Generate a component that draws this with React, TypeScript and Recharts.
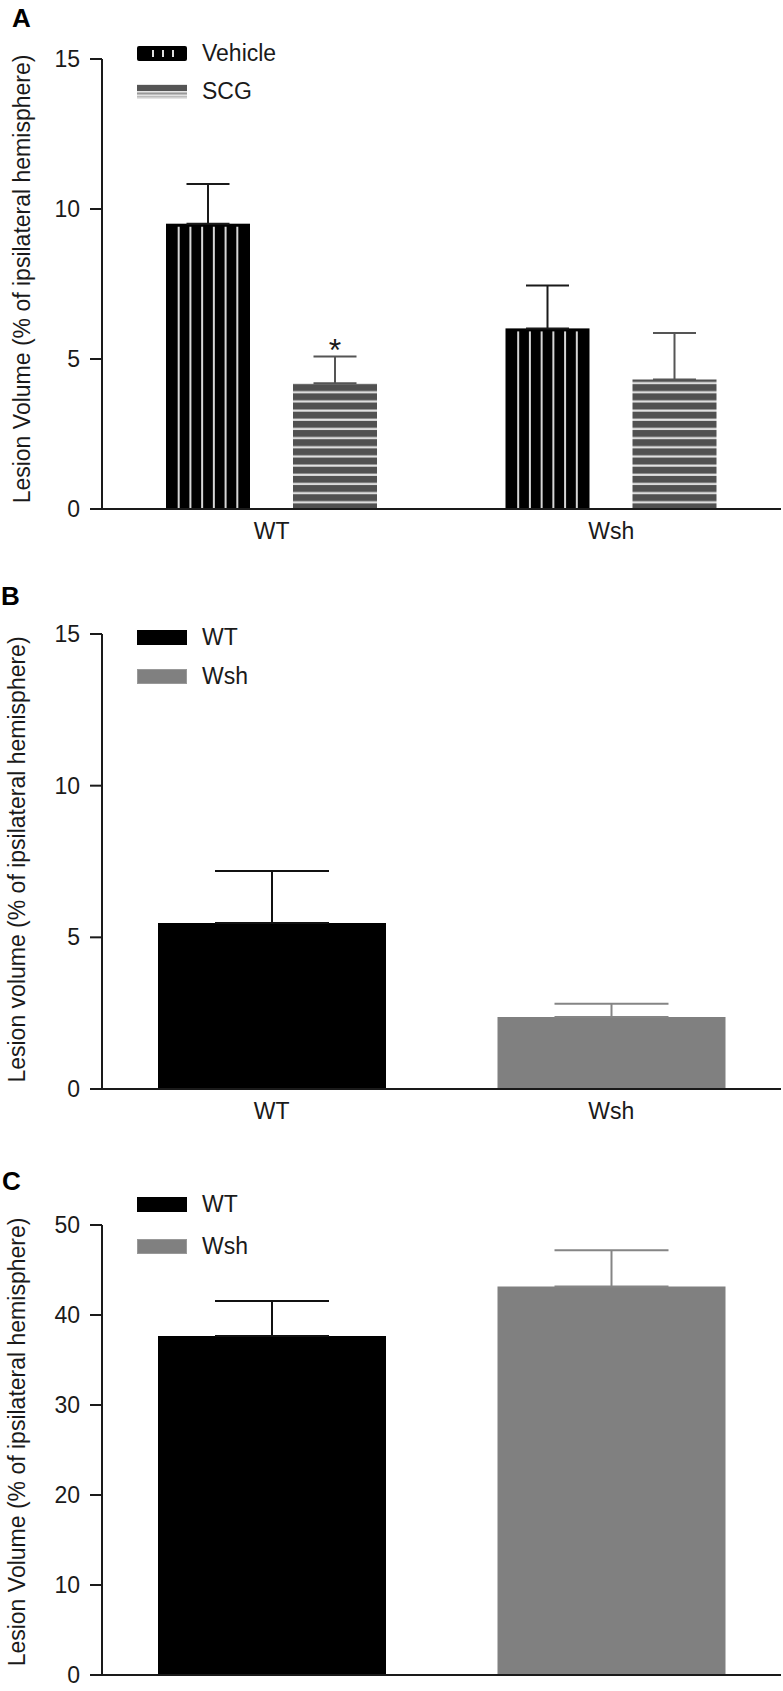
import React from "react";
import { Bar, BarChart, Cell, ErrorBar, LabelList, Legend, XAxis, YAxis } from "recharts";

// panel A: treatment x genotype
const groupsA = ["WT", "Wsh"];
const seriesA = ["Vehicle", "SCG"];
const vehicleMeans = [9.51, 6.02];
const vehicleSem = [1.32, 1.43];
const scgMeans = [4.19, 4.32];
const scgSem = [0.89, 1.55];
const scgSig = ["*", ""];

// panel B
const genotypesB = ["WT", "Wsh"];
const volumeB = [5.47, 2.37];
const semB = [1.72, 0.44];

// panel C
const genotypesC = ["WT", "Wsh"];
const volumeC = [37.67, 43.17];
const semC = [3.89, 4.03];

const ticksAB = [0, 5, 10, 15];
const ticksC = [0, 10, 20, 30, 40, 50];

const genoColors = ["#000000", "#808080"];
const errColors = ["#111111", "#858585"];

const FONT = '"Liberation Sans", Arial, Helvetica, sans-serif';
const INK = "#1a1a1a";

const dataA = groupsA.map((g, i) => ({
  group: g,
  vehicle: vehicleMeans[i],
  vehicleErr: [0, vehicleSem[i]],
  scg: scgMeans[i],
  scgErr: [0, scgSem[i]],
  sig: scgSig[i],
}));

const single = (names: string[], vals: number[], sems: number[]) =>
  names.map((g, i) => ({
    group: g,
    volume: vals[i],
    errDark: i === 0 ? [0, sems[i]] : null,
    errGray: i === 1 ? [0, sems[i]] : null,
  }));

const dataB = single(genotypesB, volumeB, semB);
const dataC = single(genotypesC, volumeC, semC);

function VehicleBar(props: any) {
  const { x, y, width, height } = props;
  if (!height) return null;
  const n = 6;
  const inset = width * 0.151;
  const step = (width - 2 * inset) / (n - 1);
  return (
    <g>
      <rect x={x} y={y} width={width} height={height} fill="#000" />
      {Array.from({ length: n }, (_, i) => (
        <line
          key={i}
          x1={x + inset + i * step}
          x2={x + inset + i * step}
          y1={y + 3}
          y2={y + height}
          stroke="#d6d6d6"
          strokeWidth={2}
        />
      ))}
    </g>
  );
}

function Star(props: any) {
  const { x, y, width, height, index, value } = props;
  if (!value) return null;
  const ppu = height / scgMeans[index];
  const capY = y - scgSem[index] * ppu;
  return (
    <text x={x + width / 2} y={capY + 4} textAnchor="middle" fontFamily={FONT} fontSize={32} fill={INK}>
      {value}
    </text>
  );
}

function YTitle(props: any) {
  const { viewBox, text, baseX, shift } = props;
  const cy = viewBox.y + viewBox.height / 2 + shift;
  return (
    <text
      transform={`translate(${baseX},${cy}) rotate(-90)`}
      textAnchor="middle"
      fontFamily={FONT}
      fontSize={23}
      fill={INK}
    >
      {text}
    </text>
  );
}

function Swatch({ kind }: { kind: string }) {
  if (kind === "Vehicle") {
    return (
      <svg width={50} height={15} style={{ display: "block" }}>
        <rect width={50} height={15} rx={2} fill="#000" />
        {[15, 25, 35].map((px) => (
          <rect key={px} x={px} y={4} width={2} height={7} fill="#e0e0e0" />
        ))}
      </svg>
    );
  }
  if (kind === "SCG") {
    return (
      <svg width={50} height={15} style={{ display: "block" }}>
        <rect width={50} height={15} fill="#e4e4e4" />
        <rect y={1} width={50} height={6} fill="#555" />
        <rect y={8.5} width={50} height={2} fill="#999" />
        <rect y={12} width={50} height={1.5} fill="#bbb" />
      </svg>
    );
  }
  return (
    <svg width={50} height={15} style={{ display: "block" }}>
      <rect x={0.5} y={0.5} width={49} height={14} fill={kind} stroke={kind === "#000000" ? "#000" : "#999"} />
    </svg>
  );
}

function LegendBox({ labels, kinds, rowH }: { labels: string[]; kinds: string[]; rowH: number }) {
  return (
    <div style={{ display: "flex", flexDirection: "column" }}>
      {labels.map((l, i) => (
        <div key={l} style={{ height: rowH, display: "flex", alignItems: "center" }}>
          <Swatch kind={kinds[i]} />
          <span style={{ marginLeft: 15, fontSize: 23, fontFamily: FONT, color: INK, lineHeight: "23px" }}>{l}</span>
        </div>
      ))}
    </div>
  );
}

const axisLine = { stroke: INK, strokeWidth: 2 };
const tickFont = { fontSize: 23, fill: INK, fontFamily: FONT };

function PanelLetter({ ch, left, top }: { ch: string; left: number; top: number }) {
  return (
    <div
      style={{
        position: "absolute",
        left,
        top,
        fontFamily: FONT,
        fontWeight: "bold",
        fontSize: 26,
        lineHeight: "26px",
        color: "#000",
      }}
    >
      {ch}
    </div>
  );
}

function SingleChart(props: {
  data: any[];
  names: string[];
  height: number;
  marginTop: number;
  xHeight: number;
  marginBottom: number;
  domainMax: number;
  ticks: number[];
  title: string;
  legendTop: number;
  rowH: number;
  showX: boolean;
}) {
  const p = props;
  return (
    <BarChart
      width={783}
      height={p.height}
      data={p.data}
      margin={{ top: p.marginTop, right: 2, bottom: p.marginBottom, left: 0 }}
      barSize={228}
    >
      <XAxis
        dataKey="group"
        axisLine={axisLine}
        tickLine={false}
        tickSize={0}
        tickMargin={14}
        height={p.xHeight}
        tick={p.showX ? tickFont : false}
      />
      <YAxis
        domain={[0, p.domainMax]}
        ticks={p.ticks}
        width={102}
        tickSize={12}
        tickMargin={10}
        axisLine={axisLine}
        tickLine={axisLine}
        tick={tickFont}
        label={<YTitle text={p.title} baseX={25} shift={p.showX ? -2 : -8} />}
      />
      <Legend
        layout="vertical"
        align="center"
        verticalAlign="middle"
        wrapperStyle={{ top: p.legendTop, left: 137, width: 300, height: "auto" }}
        content={() => <LegendBox labels={p.names} kinds={genoColors} rowH={p.rowH} />}
      />
      <Bar dataKey="volume" isAnimationActive={false}>
        {p.data.map((d, i) => (
          <Cell key={d.group} fill={genoColors[i]} />
        ))}
        <ErrorBar dataKey="errDark" width={57} stroke={errColors[0]} strokeWidth={2} />
        <ErrorBar dataKey="errGray" width={57} stroke={errColors[1]} strokeWidth={2} />
      </Bar>
    </BarChart>
  );
}

export default function App() {
  return (
    <div style={{ position: "absolute", left: 0, top: 0, width: 783, height: 1691, overflow: "hidden", background: "#fff" }}>
      <div style={{ position: "absolute", left: 0, top: 0 }}>
        <BarChart
          width={783}
          height={560}
          data={dataA}
          margin={{ top: 59, right: 2, bottom: 11, left: 0 }}
          barGap={43}
          barSize={84}
        >
          <defs>
            <pattern id="scgStripes" patternUnits="userSpaceOnUse" width={10} height={9.17}>
              <rect width={10} height={9.17} fill="#515151" />
              <rect y={6} width={10} height={2.2} fill="#e2e2e2" />
            </pattern>
          </defs>
          <XAxis
            dataKey="group"
            axisLine={axisLine}
            tickLine={false}
            tickSize={0}
            tickMargin={14}
            height={40}
            tick={tickFont}
          />
          <YAxis
            domain={[0, 15]}
            ticks={ticksAB}
            width={102}
            tickSize={12}
            tickMargin={10}
            axisLine={axisLine}
            tickLine={axisLine}
            tick={tickFont}
            label={<YTitle text="Lesion Volume (% of ipsilateral hemisphere)" baseX={30} shift={-5} />}
          />
          <Legend
            layout="vertical"
            align="center"
            verticalAlign="middle"
            wrapperStyle={{ top: 34, left: 137, width: 300, height: "auto" }}
            content={() => <LegendBox labels={seriesA} kinds={seriesA} rowH={38} />}
          />
          <Bar dataKey="vehicle" name={seriesA[0]} shape={<VehicleBar />} isAnimationActive={false}>
            <ErrorBar dataKey="vehicleErr" width={21.5} stroke={INK} strokeWidth={2} />
          </Bar>
          <Bar dataKey="scg" name={seriesA[1]} fill="url(#scgStripes)" isAnimationActive={false}>
            <ErrorBar dataKey="scgErr" width={21.5} stroke="#555" strokeWidth={2} />
            <LabelList dataKey="sig" content={<Star />} />
          </Bar>
        </BarChart>
      </div>
      <PanelLetter ch="A" left={12} top={5} />

      <div style={{ position: "absolute", left: 0, top: 560 }}>
        <SingleChart
          data={dataB}
          names={genotypesB}
          height={580}
          marginTop={74}
          xHeight={40}
          marginBottom={11}
          domainMax={15}
          ticks={ticksAB}
          title="Lesion volume (% of ipsilateral hemisphere)"
          legendTop={57.5}
          rowH={39}
          showX
        />
      </div>
      <PanelLetter ch="B" left={1} top={583} />

      <div style={{ position: "absolute", left: 0, top: 1140 }}>
        <SingleChart
          data={dataC}
          names={genotypesC}
          height={551}
          marginTop={85}
          xHeight={16}
          marginBottom={0}
          domainMax={50}
          ticks={ticksC}
          title="Lesion Volume (% of ipsilateral hemisphere)"
          legendTop={43}
          rowH={42}
          showX={false}
        />
      </div>
      <PanelLetter ch="C" left={2} top={1168} />
    </div>
  );
}
